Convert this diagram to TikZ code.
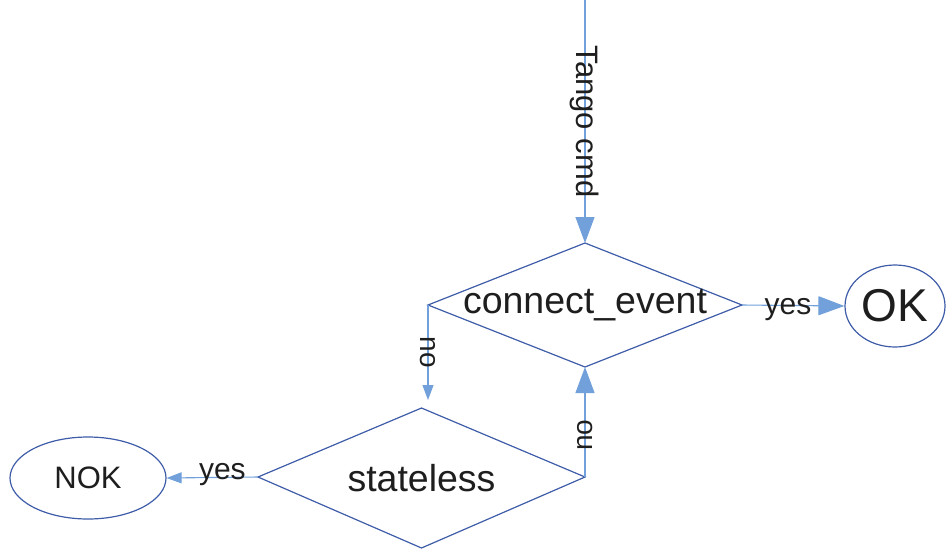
\documentclass[tikz,border=0pt]{standalone}
\usepackage{fontspec}
\setmainfont{Liberation Sans}
\usetikzlibrary{shapes.geometric,arrows.meta}
\definecolor{linkblue}{RGB}{114,160,218}
\definecolor{edgeblue}{RGB}{62,92,168}
\definecolor{txt}{RGB}{30,30,30}
\tikzset{
  link/.style={draw=linkblue,line width=1.1pt},
  bigtip/.style={-{Triangle[length=26pt,width=19pt]},linkblue},
  smalltip/.style={-{Triangle[length=15pt,width=11pt]},linkblue},
  decision/.style={draw=edgeblue,line width=1.2pt},
  terminal/.style={ellipse,draw=edgeblue,line width=1.2pt,inner sep=0pt,text=txt},
  lbl/.style={text=txt,inner sep=0pt},
}
\begin{document}
\begin{tikzpicture}[x=1pt,y=-1pt]
\useasboundingbox (0,0) rectangle (947,552);
% connect_event decision
\coordinate (ceN) at (585,243);
\coordinate (ceW) at (428,305);
\coordinate (ceE) at (742,305);
\coordinate (ceS) at (585,367);
\draw[decision] (ceN) -- (ceE) -- (ceS) -- (ceW) -- cycle;
\node[lbl,font=\fontsize{37.5}{41}\selectfont] (ce) at (585,305) {connect\_event};
% stateless decision
\coordinate (stN) at (421.5,408);
\coordinate (stW) at (258,477);
\coordinate (stE) at (585,477);
\coordinate (stS) at (421.5,548);
\draw[decision] (stN) -- (stE) -- (stS) -- (stW) -- cycle;
\node[lbl,font=\fontsize{37.5}{41}\selectfont] (st) at (421.5,478) {stateless};
% terminals
\node[terminal,minimum width=100pt,minimum height=82pt,font=\fontsize{46}{50}\selectfont] (ok) at (895,306) {OK};
\node[terminal,minimum width=156pt,minimum height=82pt,font=\fontsize{31}{35}\selectfont] (nok) at (88,478) {NOK};
% connectors
\coordinate (top) at (585,0);
\draw[link,bigtip] (top) -- (ceN)
  node[lbl,pos=0.5,rotate=-90,font=\fontsize{31}{35}\selectfont] {Tango cmd};
\draw[link,bigtip] (ceE) -- (ok.west)
  node[lbl,pos=0.45,anchor=base,yshift=-9pt,font=\fontsize{30}{34}\selectfont] {yes};
\coordinate (noEnd) at (428,400);
\draw[link,smalltip] (ceW) -- (noEnd)
  node[lbl,pos=0.5,rotate=-90,font=\fontsize{28}{32}\selectfont] {no};
\draw[link,bigtip] (stE) -- (ceS)
  node[lbl,pos=0.38,rotate=90,font=\fontsize{28}{32}\selectfont] {no};
\draw[link,smalltip] (stW) -- (nok.east)
  node[lbl,pos=0.39,anchor=base,yshift=-2pt,font=\fontsize{30}{34}\selectfont] {yes};
\end{tikzpicture}
\end{document}
